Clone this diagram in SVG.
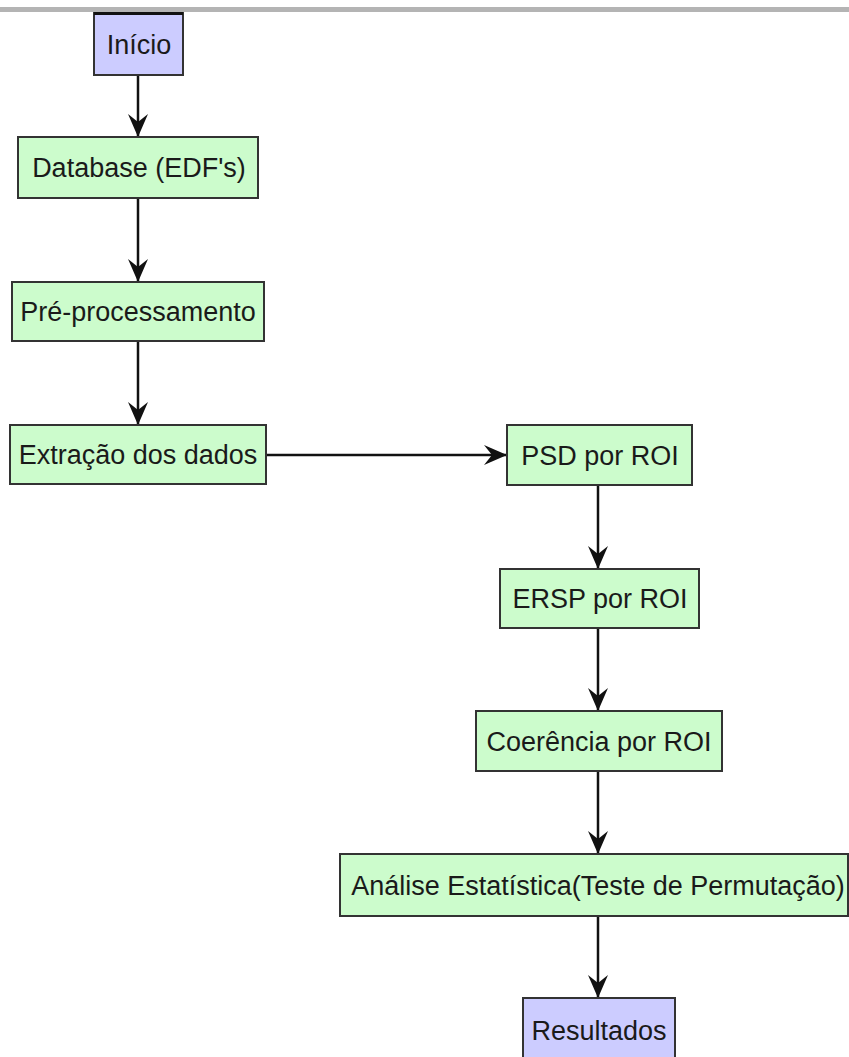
<svg xmlns="http://www.w3.org/2000/svg" width="849" height="1057" viewBox="0 0 849 1057">
<style>
.g{fill:#ccfccc;stroke:#333;stroke-width:2}
.b{fill:#ccccff;stroke:#333;stroke-width:2}
.t{font-family:"Liberation Sans",Arial,sans-serif;font-size:27px;fill:#1a1a1a;text-anchor:middle}
.c{stroke:#111;stroke-width:2.5;fill:none;marker-end:url(#ah)}
</style>
<defs>
<marker id="ah" markerUnits="userSpaceOnUse" markerWidth="26" markerHeight="26" viewBox="-24 -12 26 24" refX="0" refY="0" orient="auto">
<path d="M0,0 L-23,-10 L-15,0 L-23,10 Z" fill="#111"/>
</marker>
</defs>
<rect x="0" y="0" width="849" height="1057" fill="#fff"/>
<rect x="0" y="7" width="849" height="5" fill="#b4b4b4"/>
<g id="connectors">
<line class="c" x1="138" y1="75" x2="138" y2="137"/>
<line class="c" x1="138" y1="198" x2="138" y2="282"/>
<line class="c" x1="138" y1="341" x2="138" y2="425"/>
<line class="c" x1="266" y1="455" x2="507" y2="455"/>
<line class="c" x1="598" y1="485" x2="598" y2="569"/>
<line class="c" x1="598" y1="628" x2="598" y2="711"/>
<line class="c" x1="598" y1="771" x2="598" y2="854"/>
<line class="c" x1="598" y1="916" x2="598" y2="998"/>
</g>
<g id="inicio"><rect class="b" x="94" y="13" width="89" height="62"/><line x1="94" y1="13.5" x2="183" y2="13.5" stroke="#111" stroke-width="3"/><text class="t" x="139" y="54">Início</text></g>
<g id="database"><rect class="g" x="18" y="137" width="240" height="61"/><text class="t" x="139" y="177">Database (EDF's)</text></g>
<g id="preproc"><rect class="g" x="12" y="282" width="252" height="59"/><text class="t" x="138" y="321">Pré-processamento</text></g>
<g id="extracao"><rect class="g" x="10" y="425" width="256" height="59"/><text class="t" x="138" y="464">Extração dos dados</text></g>
<g id="psd"><rect class="g" x="507" y="425" width="185" height="60"/><text class="t" x="600" y="465">PSD por ROI</text></g>
<g id="ersp"><rect class="g" x="500" y="569" width="199" height="59"/><text class="t" x="600" y="608">ERSP por ROI</text></g>
<g id="coerencia"><rect class="g" x="476" y="711" width="246" height="60"/><text class="t" x="599" y="751">Coerência por ROI</text></g>
<g id="analise"><rect class="g" x="340" y="854" width="508" height="62"/><text class="t" x="598" y="895">Análise Estatística(Teste de Permutação)</text></g>
<g id="resultados"><rect class="b" x="523" y="998" width="152" height="70"/><text class="t" x="599" y="1040">Resultados</text></g>
</svg>
